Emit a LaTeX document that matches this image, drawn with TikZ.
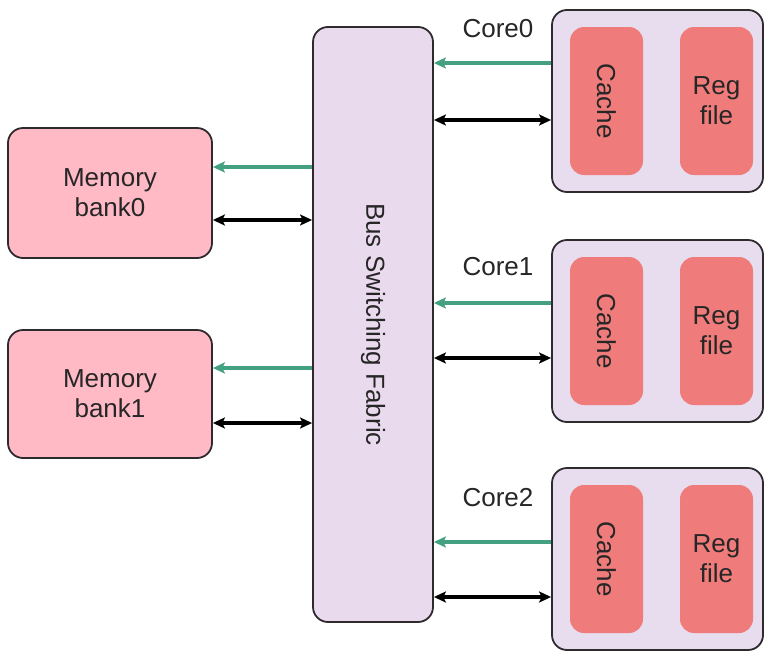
\documentclass[tikz,border=0pt]{standalone}
\usepackage{fontspec}
\setmainfont{Liberation Sans}
\usetikzlibrary{arrows.meta}
\definecolor{memfill}{HTML}{FFBAC6}
\definecolor{busfill}{HTML}{EADAEE}
\definecolor{corefill}{HTML}{E8DDEF}
\definecolor{cachefill}{HTML}{EF7C7B}
\definecolor{greenarr}{HTML}{43A080}
\definecolor{edge}{HTML}{2E2A2E}
\begin{document}
\begin{tikzpicture}[x=1pt,y=-1pt,
  txt/.style={font=\fontsize{26}{30}\selectfont, text=black!85},
  membox/.style={draw=edge, line width=1.8pt, fill=memfill, rounded corners=15pt,
    minimum width=204pt, minimum height=130pt, align=center, txt},
  busbox/.style={draw=edge, line width=1.8pt, fill=busfill, rounded corners=15pt,
    minimum width=120pt, minimum height=595pt, txt},
  corebox/.style={draw=edge, line width=1.8pt, fill=corefill, rounded corners=15pt,
    minimum width=211pt, minimum height=182pt},
  inner/.style={fill=cachefill, rounded corners=14pt, minimum width=73pt,
    minimum height=148pt, align=center, txt},
  garrow/.style={draw=greenarr, line width=3.6pt, -{Stealth[length=12pt,width=11pt,inset=2.5pt]}},
  barrow/.style={draw=black, line width=3.6pt, {Stealth[length=12pt,width=11pt,inset=2.5pt]}-{Stealth[length=12pt,width=11pt,inset=2.5pt]}},
  lbl/.style={txt}
]
\useasboundingbox (0,0) rectangle (765,651);
\fill[white] (0,0) rectangle (765,651);

\node[busbox] (bus) at (373,324.5) {};
\node[txt, rotate=-90] (bustxt) at (bus.center) {Bus Switching Fabric};

\node[membox] (m0) at (110,193) {Memory\\bank0};
\node[membox, minimum height=128pt] (m1) at (110,394) {Memory\\bank1};

\node[corebox] (c0) at (657.5,101) {};
\node[corebox] (c1) at (657.5,331) {};
\node[corebox] (c2) at (657.5,559) {};

\foreach \i in {0,1,2}{
  \node[inner] (cache\i) at ([xshift=-51pt]c\i.center) {\rotatebox{-90}{Cache}};
  \node[inner] (reg\i) at ([xshift=59pt]c\i.center) {Reg\\file};
}

\node[lbl] (l0) at (498,29) {Core0};
\node[lbl] (l1) at (498,267) {Core1};
\node[lbl] (l2) at (498,498) {Core2};

\coordinate (g0) at (0,63);  \coordinate (b0) at (0,120);
\coordinate (g1) at (0,303); \coordinate (b1) at (0,358);
\coordinate (g2) at (0,542); \coordinate (b2) at (0,597);
\coordinate (gm0) at (0,167); \coordinate (bm0) at (0,220);
\coordinate (gm1) at (0,368); \coordinate (bm1) at (0,423);

\foreach \i in {0,1,2}{
  \draw[garrow] (c\i.west |- g\i) -- (bus.east |- g\i);
  \draw[barrow] (bus.east |- b\i) -- (c\i.west |- b\i);
}
\foreach \i in {0,1}{
  \draw[garrow] (bus.west |- gm\i) -- (m\i.east |- gm\i);
  \draw[barrow] (m\i.east |- bm\i) -- (bus.west |- bm\i);
}
\end{tikzpicture}
\end{document}
